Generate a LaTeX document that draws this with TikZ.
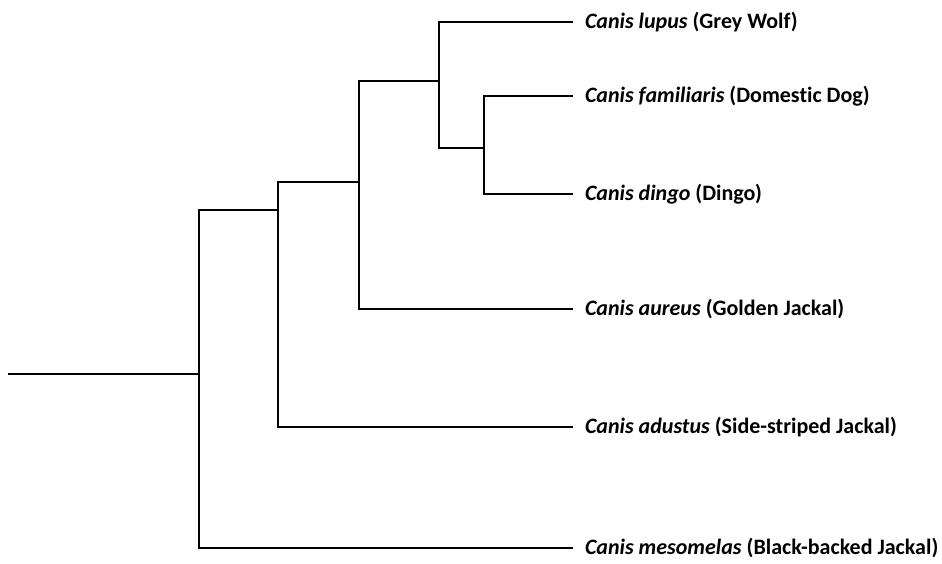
\documentclass[tikz,border=0pt]{standalone}
\usepackage{fontspec}
\setmainfont{Carlito}[Ligatures=NoCommon]
\usepackage{tikz}
\usetikzlibrary{positioning}

\begin{document}
\begin{tikzpicture}[
  x=1pt, y=-1pt,
  branch/.style={line width=1.8pt, line join=miter, line cap=rect},
  leaf/.style={anchor=west, inner xsep=13pt, inner ysep=0pt, outer sep=0pt,
    font=\fontsize{22}{25}\selectfont\bfseries}
]
\useasboundingbox (0,0) rectangle (942,563);

% internal nodes of the tree
\coordinate (root) at (9,374);
\coordinate (n1) at (199,374);
\coordinate (n2) at (278,210);
\coordinate (n3) at (359,182);
\coordinate (n4) at (439,81);
\coordinate (n5) at (484,148);

% species
\node[leaf] (lupus) at (572,22) {\textit{Canis lupus} (Grey Wolf)};
\node[leaf] (familiaris) at (572,96) {\textit{Canis familiaris} (Domestic Dog)};
\node[leaf] (dingo) at (572,194) {\textit{Canis dingo} (Dingo)};
\node[leaf] (aureus) at (572,309) {\textit{Canis aureus} (Golden Jackal)};
\node[leaf] (adustus) at (572,427) {\textit{Canis adustus} (Side-striped Jackal)};
\node[leaf] (mesomelas) at (572,548) {\textit{Canis mesomelas} (Black-backed Jackal)};

\draw[branch] (root) -- (n1);
\draw[branch] (n1) |- (n2);
\draw[branch] (n1) |- (mesomelas.west);
\draw[branch] (n2) |- (n3);
\draw[branch] (n2) |- (adustus.west);
\draw[branch] (n3) |- (n4);
\draw[branch] (n3) |- (aureus.west);
\draw[branch] (n4) |- (lupus.west);
\draw[branch] (n4) |- (n5);
\draw[branch] (n5) |- (familiaris.west);
\draw[branch] (n5) |- (dingo.west);
\end{tikzpicture}
\end{document}
